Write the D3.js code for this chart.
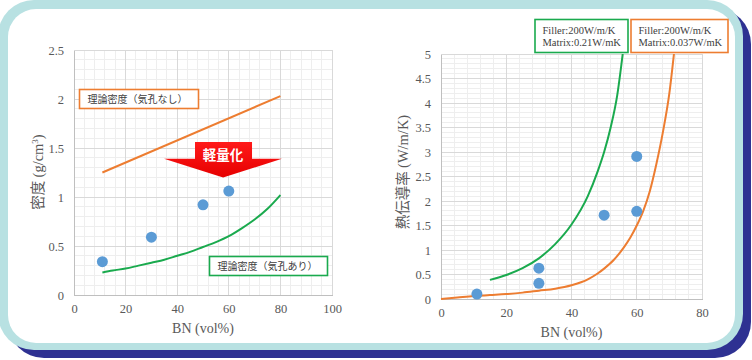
<!DOCTYPE html>
<html><head><meta charset="utf-8">
<script src="https://cdn.jsdelivr.net/npm/d3@7"></script>
<style>
html,body{margin:0;padding:0;background:#fff;}
svg{display:block;}
</style></head>
<body>
<svg id="c" width="752" height="360"></svg>
<script>
// ---------- data ----------
// Left chart: density vs BN
const densX = [11, 30, 50, 60];
const densY = [0.34, 0.59, 0.92, 1.06];
const noPoreX = [11, 80];
const noPoreY = [1.25, 2.03];
const poreX = [11, 15, 20, 25, 30, 35, 40, 45, 50, 55, 60, 65, 70, 75, 80];
const poreY = [0.23, 0.25, 0.27, 0.30, 0.33, 0.36, 0.40, 0.44, 0.49, 0.54, 0.60, 0.68, 0.77, 0.88, 1.02];
const leftXTicks = [0, 20, 40, 60, 80, 100];
const leftYTicks = [0, 0.5, 1, 1.5, 2, 2.5];
const leftYLabels = ["0", "0.5", "1", "1.5", "2", "2.5"];
const noPoreLabel = "理論密度（気孔なし）";
const poreLabel = "理論密度（気孔あり）";
const arrowLabel = "軽量化";

// Right chart: thermal conductivity vs BN
const tcX = [11, 30, 30, 50, 60, 60];
const tcY = [0.10, 0.63, 0.32, 1.71, 2.91, 1.79];
const greenX = [15, 20, 25, 30, 35, 40, 45, 48, 50, 52, 54, 55.7];
const greenY = [0.39, 0.49, 0.63, 0.83, 1.12, 1.52, 2.1, 2.6, 3.0, 3.5, 4.15, 5.0];
const orangeX = [0, 5, 10, 15, 20, 25, 30, 35, 40, 45, 48, 50, 53, 56, 58, 60, 62, 64, 66, 68, 70, 71.4];
const orangeY = [0, 0.03, 0.06, 0.08, 0.10, 0.13, 0.17, 0.21, 0.28, 0.40, 0.52, 0.62, 0.80, 1.05, 1.25, 1.5, 1.8, 2.2, 2.75, 3.4, 4.2, 5.0];
const rightXTicks = [0, 20, 40, 60, 80];
const rightYTicks = [0, 0.5, 1, 1.5, 2, 2.5, 3, 3.5, 4, 4.5, 5];
const rightYLabels = ["0", "0.5", "1", "1.5", "2", "2.5", "3", "3.5", "4", "4.5", "5"];
const greenLegend = ["Filler:200W/m/K", "Matrix:0.21W/mK"];
const orangeLegend = ["Filler:200W/m/K", "Matrix:0.037W/mK"];

// ---------- styles ----------
const ORANGE = "#ed7d31", GREEN = "#1aaa4e", BLUE = "#5b9bd5";
const TXT = "#595959";
const SERIF = "'Liberation Serif','Times New Roman',serif";
const CJK = "'Noto Sans CJK JP','Liberation Serif',serif";

const svg = d3.select("#c");
const defs = svg.append("defs");

// ---------- frame ----------
svg.append("rect").attr("x", 8).attr("y", 8).attr("width", 743).attr("height", 350).attr("rx", 36).attr("fill", "#2e3192");
svg.append("rect").attr("x", -2).attr("y", 0).attr("width", 745).attr("height", 350).attr("rx", 36).attr("fill", "#b8e1e2");
svg.append("rect").attr("x", 8).attr("y", 9).attr("width", 727).attr("height", 334).attr("rx", 28).attr("fill", "#ffffff");

function drawChart(cfg) {
  const g = svg.append("g");
  const x = d3.scaleLinear().domain(cfg.xDomain).range(cfg.xRange);
  const y = d3.scaleLinear().domain(cfg.yDomain).range(cfg.yRange);
  const xMinor = d3.range(cfg.xDomain[0], cfg.xDomain[1] + 1e-9, cfg.xMinor);
  const yMinor = d3.range(cfg.yDomain[0], cfg.yDomain[1] + 1e-9, cfg.yMinor);
  g.append("g").selectAll("line").data(xMinor).join("line")
    .attr("x1", d => x(d)).attr("x2", d => x(d)).attr("y1", y(cfg.yDomain[0])).attr("y2", y(cfg.yDomain[1]))
    .attr("stroke", "#eeeeee").attr("stroke-width", 1).attr("shape-rendering", "crispEdges");
  g.append("g").selectAll("line").data(yMinor).join("line")
    .attr("y1", d => y(d)).attr("y2", d => y(d)).attr("x1", x(cfg.xDomain[0])).attr("x2", x(cfg.xDomain[1]))
    .attr("stroke", "#eeeeee").attr("stroke-width", 1).attr("shape-rendering", "crispEdges");
  g.append("g").selectAll("line").data(cfg.xTicks).join("line")
    .attr("x1", d => x(d)).attr("x2", d => x(d)).attr("y1", y(cfg.yDomain[0])).attr("y2", y(cfg.yDomain[1]))
    .attr("stroke", "#d9d9d9").attr("stroke-width", 1).attr("shape-rendering", "crispEdges");
  g.append("g").selectAll("line").data(cfg.yTicks).join("line")
    .attr("y1", d => y(d)).attr("y2", d => y(d)).attr("x1", x(cfg.xDomain[0])).attr("x2", x(cfg.xDomain[1]))
    .attr("stroke", "#d9d9d9").attr("stroke-width", 1).attr("shape-rendering", "crispEdges");
  const xAxis = d3.axisBottom(x).tickValues(cfg.xTicks).tickSize(0).tickPadding(9).tickFormat(d3.format("d"));
  const yAxis = d3.axisLeft(y).tickValues(cfg.yTicks).tickSize(0).tickPadding(10).tickFormat((d, i) => cfg.yLabels[i]);
  const gx = g.append("g").attr("transform", `translate(0,${y(cfg.yDomain[0])})`).call(xAxis);
  const gy = g.append("g").attr("transform", `translate(${x(cfg.xDomain[0])},0)`).call(yAxis);
  [gx, gy].forEach(a => {
    a.attr("font-family", SERIF).attr("font-size", 12.5);
    a.select(".domain").attr("stroke", "#bfbfbf").attr("shape-rendering", "crispEdges");
    a.selectAll("text").attr("fill", TXT);
  });
  g.append("text").attr("x", (cfg.xRange[0] + cfg.xRange[1]) / 2).attr("y", cfg.xTitleY)
    .attr("text-anchor", "middle").attr("fill", TXT).attr("font-family", SERIF).attr("font-size", 14)
    .text("BN (vol%)");
  const yt = g.append("text").attr("transform", `translate(${cfg.yTitleX},${cfg.yTitleY}) rotate(-90)`)
    .attr("text-anchor", "middle").attr("fill", TXT).attr("font-size", 14.5);
  cfg.yTitle(yt);
  return {g, x, y};
}

// ---------- left chart ----------
const L = drawChart({
  xDomain: [0, 100], yDomain: [0, 2.5], xRange: [74, 332], yRange: [295, 50],
  xMinor: 4, yMinor: 0.1, xTicks: leftXTicks, yTicks: leftYTicks, yLabels: leftYLabels,
  xTitleY: 333, yTitleX: 43, yTitleY: 172,
  yTitle: t => {
    t.append("tspan").attr("font-family", CJK).text("密度 ");
    t.append("tspan").attr("font-family", SERIF).text("(g/cm");
    t.append("tspan").attr("font-family", SERIF).attr("font-size", 9).attr("baseline-shift", "super").text("3");
    t.append("tspan").attr("font-family", SERIF).text(")");
  }
});
const line = (x, y) => d3.line().x(d => x(d[0])).y(d => y(d[1])).curve(d3.curveMonotoneX);
L.g.append("path").datum(d3.zip(noPoreX, noPoreY)).attr("d", line(L.x, L.y))
  .attr("fill", "none").attr("stroke", ORANGE).attr("stroke-width", 2);
L.g.append("path").datum(d3.zip(poreX, poreY)).attr("d", line(L.x, L.y))
  .attr("fill", "none").attr("stroke", GREEN).attr("stroke-width", 2);

// arrow annotation, placed in data coordinates
const arrowPts = [[46.9, 1.56], [69.0, 1.56], [69.0, 1.39], [80.6, 1.39], [57.8, 1.20], [34.9, 1.39], [46.9, 1.39]];
const grad = defs.append("linearGradient").attr("id", "rg").attr("x1", 0).attr("y1", 0).attr("x2", 0).attr("y2", 1);
grad.append("stop").attr("offset", "0%").attr("stop-color", "#ff1a1a");
grad.append("stop").attr("offset", "100%").attr("stop-color", "#e60000");
L.g.append("path").attr("d", "M" + arrowPts.map(p => [L.x(p[0]), L.y(p[1])].join(",")).join("L") + "Z")
  .attr("fill", "url(#rg)");
L.g.append("text").attr("x", L.x(57.8)).attr("y", L.y(1.39) + 1.5)
  .attr("text-anchor", "middle").attr("fill", "#fff").attr("font-family", CJK).attr("font-weight", "bold")
  .attr("font-size", 13.5).text(arrowLabel);

L.g.selectAll("circle").data(d3.zip(densX, densY)).join("circle")
  .attr("cx", d => L.x(d[0])).attr("cy", d => L.y(d[1])).attr("r", 5.5).attr("fill", BLUE);

function labelBox(g, x0, y0, w, h, color, lines, font, size, pad, first, step) {
  g.append("rect").attr("x", x0).attr("y", y0).attr("width", w).attr("height", h)
    .attr("fill", "#fff").attr("stroke", color).attr("stroke-width", 1.6);
  lines.forEach((s, i) => {
    g.append("text").attr("x", x0 + pad).attr("y", y0 + first + i * step)
      .attr("fill", "#404040").attr("font-family", font).attr("font-size", size).text(s);
  });
}
labelBox(L.g, 79.5, 89.5, 119, 19, ORANGE, [noPoreLabel], CJK, 10, 8, 13.5, 0);
labelBox(L.g, 209.5, 256.5, 118, 19, GREEN, [poreLabel], CJK, 10, 8, 13.5, 0);

// ---------- right chart ----------
const R = drawChart({
  xDomain: [0, 80], yDomain: [0, 5], xRange: [441, 702], yRange: [299, 54],
  xMinor: 4, yMinor: 0.1, xTicks: rightXTicks, yTicks: rightYTicks, yLabels: rightYLabels,
  xTitleY: 337, yTitleX: 408, yTitleY: 172,
  yTitle: t => {
    t.append("tspan").attr("font-family", CJK).text("熱伝導率 ");
    t.append("tspan").attr("font-family", SERIF).text("(W/m/K)");
  }
});
defs.append("clipPath").attr("id", "rclip").append("rect")
  .attr("x", 430).attr("y", 54).attr("width", 290).attr("height", 260);
R.g.append("path").datum(d3.zip(greenX, greenY)).attr("d", line(R.x, R.y)).attr("clip-path", "url(#rclip)")
  .attr("fill", "none").attr("stroke", GREEN).attr("stroke-width", 2);
R.g.append("path").datum(d3.zip(orangeX, orangeY)).attr("d", line(R.x, R.y)).attr("clip-path", "url(#rclip)")
  .attr("fill", "none").attr("stroke", ORANGE).attr("stroke-width", 2);
R.g.selectAll("circle").data(d3.zip(tcX, tcY)).join("circle")
  .attr("cx", d => R.x(d[0])).attr("cy", d => R.y(d[1])).attr("r", 5.5).attr("fill", BLUE);
labelBox(R.g, 535, 19.5, 93, 33, GREEN, greenLegend, SERIF, 10.5, 7.5, 14.5, 12);
labelBox(R.g, 631, 19.5, 97, 33, ORANGE, orangeLegend, SERIF, 10.5, 7.5, 14.5, 12);
</script>
</body></html>
